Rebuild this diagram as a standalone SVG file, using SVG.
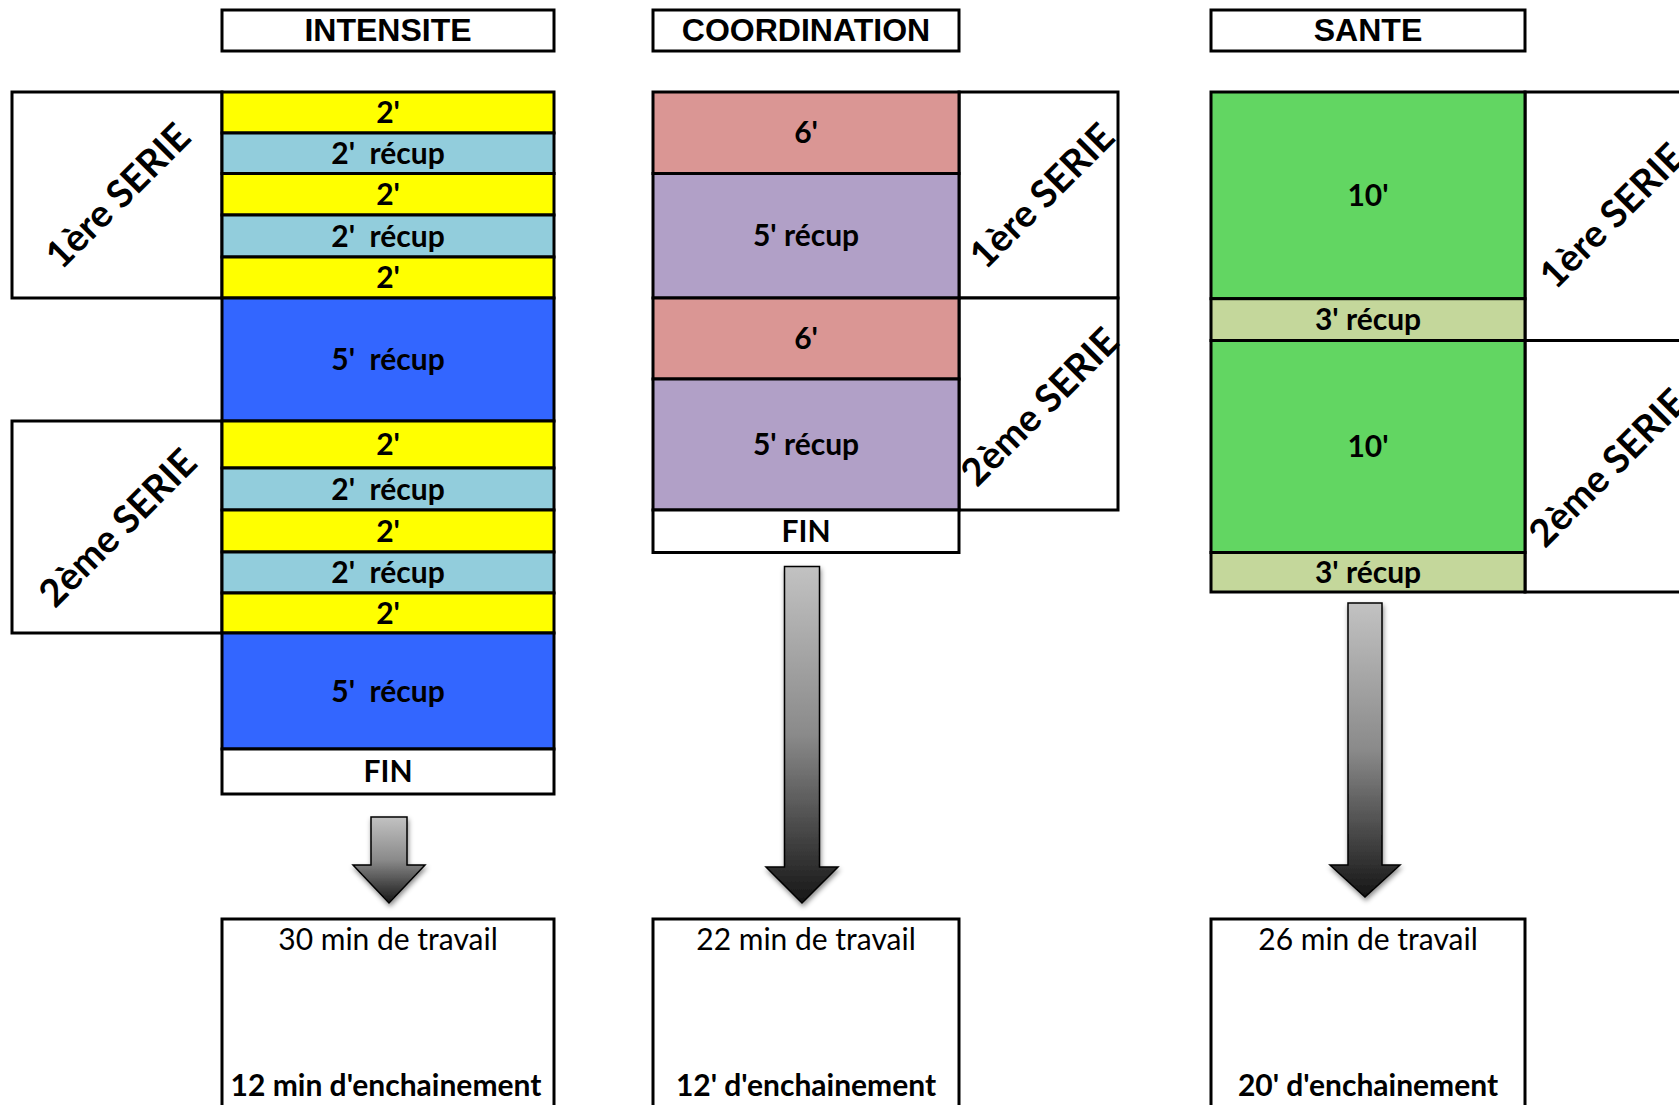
<svg xmlns="http://www.w3.org/2000/svg" width="1679" height="1105" viewBox="0 0 1679 1105">
<defs>
<linearGradient id="agrad" x1="0" y1="0" x2="0" y2="1">
<stop offset="0" stop-color="#c2c2c2"/>
<stop offset="0.5" stop-color="#8a8a8a"/>
<stop offset="1" stop-color="#161616"/>
</linearGradient>
<filter id="shadow" x="-30%" y="-10%" width="160%" height="130%">
<feDropShadow dx="1" dy="3" stdDeviation="2.5" flood-color="#000" flood-opacity="0.45"/>
</filter>
</defs>
<style>
rect{stroke:#000;stroke-width:3}
.hd{font-family:"Liberation Sans",Arial,sans-serif;font-weight:bold;font-size:32px;text-anchor:middle;fill:#000}
.lb{font-family:Lato,"Open Sans",sans-serif;font-weight:bold;font-size:30px;text-anchor:middle;fill:#000}
.se{font-family:Lato,"Open Sans",sans-serif;font-weight:bold;font-size:38px;text-anchor:middle;fill:#000}
.rs{font-family:Lato,"Open Sans",sans-serif;font-size:30px;text-anchor:middle;fill:#000}
.rb{font-family:Lato,"Open Sans",sans-serif;font-weight:bold;font-size:30px;text-anchor:middle;fill:#000}
.w{fill:#fff}.y{fill:#ffff00}.lbl{fill:#92cddc}.bl{fill:#3366ff}.pk{fill:#da9694}.pu{fill:#b1a0c7}.gr{fill:#62d662}.ol{fill:#c4d79b}
.arr{fill:url(#agrad);stroke:#000;stroke-width:1.5;filter:url(#shadow)}
</style>
<rect width="1679" height="1105" fill="#fff" style="stroke:none"/>

<!-- INTENSITE -->
<g id="header-intensite">
<rect class="w" x="222" y="10" width="332" height="41"/>
<text class="hd" x="388" y="41">INTENSITE</text>
</g>
<g id="serie1-intensite">
<rect class="w" x="12" y="92" width="210" height="206"/>
<text class="se" transform="translate(118,196) rotate(-45)" x="0" y="13">1ère SERIE</text>
</g>
<g id="serie2-intensite">
<rect class="w" x="12" y="421" width="210" height="212"/>
<text class="se" transform="translate(118,528) rotate(-45)" x="0" y="13">2ème SERIE</text>
</g>
<g id="col-intensite">
<rect class="y" x="222" y="92" width="332" height="41"/><text class="lb" x="388" y="123">2'</text>
<rect class="lbl" x="222" y="133" width="332" height="40.5"/><text class="lb" x="388" y="164" xml:space="preserve">2'  récup</text>
<rect class="y" x="222" y="173.5" width="332" height="41.5"/><text class="lb" x="388" y="205">2'</text>
<rect class="lbl" x="222" y="215" width="332" height="42"/><text class="lb" x="388" y="247" xml:space="preserve">2'  récup</text>
<rect class="y" x="222" y="257" width="332" height="41"/><text class="lb" x="388" y="288">2'</text>
<rect class="bl" x="222" y="298" width="332" height="123"/><text class="lb" x="388" y="370" xml:space="preserve">5'  récup</text>
<rect class="y" x="222" y="421" width="332" height="47"/><text class="lb" x="388" y="455">2'</text>
<rect class="lbl" x="222" y="468" width="332" height="42"/><text class="lb" x="388" y="500" xml:space="preserve">2'  récup</text>
<rect class="y" x="222" y="510" width="332" height="42"/><text class="lb" x="388" y="542">2'</text>
<rect class="lbl" x="222" y="552" width="332" height="41"/><text class="lb" x="388" y="583" xml:space="preserve">2'  récup</text>
<rect class="y" x="222" y="593" width="332" height="40"/><text class="lb" x="388" y="624">2'</text>
<rect class="bl" x="222" y="633" width="332" height="116"/><text class="lb" x="388" y="702" xml:space="preserve">5'  récup</text>
<rect class="w" x="222" y="749" width="332" height="45"/><text class="lb" x="388" y="782">FIN</text>
</g>
<g id="result-intensite">
<rect class="w" x="222" y="919" width="332" height="200"/>
<text class="rs" x="388" y="950">30 min de travail</text>
<text class="rb" x="386" y="1096">12 min d'enchainement</text>
</g>

<!-- COORDINATION -->
<g id="header-coordination">
<rect class="w" x="653" y="10" width="306" height="41"/>
<text class="hd" x="806" y="41">COORDINATION</text>
</g>
<g id="serie1-coordination">
<rect class="w" x="959" y="92" width="159" height="206"/>
<text class="se" transform="translate(1042,196) rotate(-45)" x="0" y="13">1ère SERIE</text>
</g>
<g id="serie2-coordination">
<rect class="w" x="959" y="298" width="159" height="212"/>
<text class="se" transform="translate(1040,407) rotate(-45)" x="0" y="13">2ème SERIE</text>
</g>
<g id="col-coordination">
<rect class="pk" x="653" y="92" width="306" height="81.5"/><text class="lb" x="806" y="143">6'</text>
<rect class="pu" x="653" y="173.5" width="306" height="124.5"/><text class="lb" x="806" y="246">5' récup</text>
<rect class="pk" x="653" y="298" width="306" height="81"/><text class="lb" x="806" y="349">6'</text>
<rect class="pu" x="653" y="379" width="306" height="131"/><text class="lb" x="806" y="455">5' récup</text>
<rect class="w" x="653" y="510" width="306" height="42.5"/><text class="lb" x="806" y="542">FIN</text>
</g>
<g id="result-coordination">
<rect class="w" x="653" y="919" width="306" height="200"/>
<text class="rs" x="806" y="950">22 min de travail</text>
<text class="rb" x="806" y="1096">12' d'enchainement</text>
</g>

<!-- SANTE -->
<g id="header-sante">
<rect class="w" x="1211" y="10" width="314" height="41"/>
<text class="hd" x="1368" y="41">SANTE</text>
</g>
<g id="serie1-sante">
<rect class="w" x="1525" y="92" width="180" height="248.5"/>
<text class="se" transform="translate(1612,216) rotate(-45)" x="0" y="13">1ère SERIE</text>
</g>
<g id="serie2-sante">
<rect class="w" x="1525" y="340.5" width="180" height="251.5"/>
<text class="se" transform="translate(1608,468) rotate(-45)" x="0" y="13">2ème SERIE</text>
</g>
<g id="col-sante">
<rect class="gr" x="1211" y="92" width="314" height="206.7"/><text class="lb" x="1368" y="206">10'</text>
<rect class="ol" x="1211" y="298.7" width="314" height="41.8"/><text class="lb" x="1368" y="330">3' récup</text>
<rect class="gr" x="1211" y="340.5" width="314" height="212"/><text class="lb" x="1368" y="457">10'</text>
<rect class="ol" x="1211" y="552.5" width="314" height="39.5"/><text class="lb" x="1368" y="583">3' récup</text>
</g>
<g id="result-sante">
<rect class="w" x="1211" y="919" width="314" height="200"/>
<text class="rs" x="1368" y="950">26 min de travail</text>
<text class="rb" x="1368" y="1096">20' d'enchainement</text>
</g>

<!-- connectors -->
<g id="connectors">
<path class="arr" d="M371,817 H407 V865 H425 L389,903 L353,865 H371 Z"/>
<path class="arr" d="M784.5,566.5 H819.5 V867 H838 L802,903 L766,867 H784.5 Z"/>
<path class="arr" d="M1348,603 H1382 V865 H1400 L1365,897 L1330,865 H1348 Z"/>
</g>
</svg>
